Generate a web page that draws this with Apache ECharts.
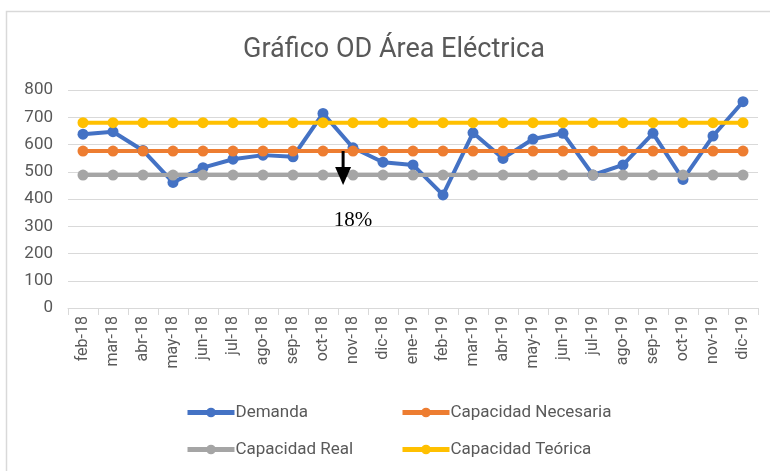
<!DOCTYPE html>
<html lang="es">
<head>
  <meta charset="UTF-8">
  <title>Gráfico OD Área Eléctrica</title>
  <script src="https://cdn.jsdelivr.net/npm/echarts@6/dist/echarts.min.js"></script>
  <style>
    html,body{padding:0;margin:0;background:#fff;}
    #main{width:770px;height:471px;}
  </style>
</head>
<body>
  <div id="main"></div>
  <script>
    // meses
    const meses = ['feb-18','mar-18','abr-18','may-18','jun-18','jul-18','ago-18','sep-18','oct-18','nov-18','dic-18',
                   'ene-19','feb-19','mar-19','abr-19','may-19','jun-19','jul-19','ago-19','sep-19','oct-19','nov-19','dic-19']
    const demanda = [638,647,578,461,515,546,561,555,714,588,535,525,415,643,549,620,641,488,525,641,472,631,757]
    const capNecesaria = meses.map(() => 576)
    const capReal = meses.map(() => 488)
    const capTeorica = meses.map(() => 680)
    // anotación: flecha entre oct-18 y nov-18
    const flecha = {pos: 8.67, desde: 576, hasta: 451, texto: '18%', textoValor: 358, textoPos: 9}

    const gris = '#595959'
    function serie(nombre, datos, color){
      return {
        name: nombre, type: 'line', data: datos, color: color,
        symbol: 'circle', symbolSize: 11,
        lineStyle: {width: 4, color: color},
        itemStyle: {color: color},
        emphasis: {disabled: true}, animation: false
      }
    }
    function leyenda(nombre, left, top){
      return {left: left, top: top, itemWidth: 47, itemHeight: 12, itemGap: 0,
              lineStyle: {width: 5},
              textStyle: {color: gris, fontSize: 17, fontFamily: 'Roboto', padding: [0,0,0,-4]},
              data: [nombre]}
    }

    let option = {
      animation: false,
      title: {
        text: 'Gráfico OD Área Eléctrica', left: 238, top: 32,
        textStyle: {color: gris, fontSize: 27, fontWeight: 'normal', fontFamily: 'Roboto'}
      },
      legend: [
        leyenda('Demanda', 180, 399),
        leyenda('Capacidad Necesaria', 395, 399),
        leyenda('Capacidad Real', 180, 436),
        leyenda('Capacidad Teórica', 395, 436)
      ],
      grid: {left: 68, right: 12, top: 90, bottom: 163, containLabel: false},
      xAxis: {
        type: 'category', data: meses, boundaryGap: true,
        axisLine: {lineStyle: {color: '#d9d9d9', width: 1}},
        axisTick: {show: true, length: 7, lineStyle: {color: '#d9d9d9'}},
        axisLabel: {rotate: 90, color: gris, fontSize: 16, fontFamily: 'Roboto', margin: 8, interval: 0}
      },
      yAxis: {
        type: 'value', min: 0, max: 800, interval: 100,
        axisLine: {show: false}, axisTick: {show: false},
        axisLabel: {color: gris, fontSize: 17, fontFamily: 'Roboto', margin: 15},
        splitLine: {lineStyle: {color: '#d9d9d9', width: 1}}
      },
      series: [
        serie('Demanda', demanda, '#4472C4'),
        serie('Capacidad Necesaria', capNecesaria, '#ED7D31'),
        serie('Capacidad Real', capReal, '#A5A5A5'),
        serie('Capacidad Teórica', capTeorica, '#FFC000')
      ]
    };
    let myChart = echarts.init(document.getElementById('main'));
    myChart.setOption(option);

    // posiciones de la anotación a partir de los ejes
    const i0 = Math.floor(flecha.pos)
    const xa = myChart.convertToPixel({xAxisIndex: 0}, meses[i0])
    const xb = myChart.convertToPixel({xAxisIndex: 0}, meses[i0 + 1])
    const ax = xa + (xb - xa) * (flecha.pos - i0)
    const y1 = myChart.convertToPixel({yAxisIndex: 0}, flecha.desde)
    const y2 = myChart.convertToPixel({yAxisIndex: 0}, flecha.hasta)
    const cabeza = 18
    const tx = myChart.convertToPixel({xAxisIndex: 0}, meses[flecha.textoPos])
    const ty = myChart.convertToPixel({yAxisIndex: 0}, flecha.textoValor)

    myChart.setOption({
      graphic: [
        {type: 'rect', silent: true, z: 0,
         shape: {x: 6.5, y: 11.5, width: 800, height: 500},
         style: {fill: 'none', stroke: '#d9d9d9', lineWidth: 1.5}},
        {type: 'rect', silent: true, z: 100,
         shape: {x: ax - 1.5, y: y1, width: 3, height: (y2 - y1) - cabeza + 1},
         style: {fill: '#000'}},
        {type: 'polygon', silent: true, z: 100,
         shape: {points: [[ax - 8, y2 - cabeza], [ax + 8, y2 - cabeza], [ax, y2]]},
         style: {fill: '#000'}},
        {type: 'text', silent: true, z: 100,
         style: {x: tx, y: ty, text: flecha.texto, fill: '#000', font: '21px "Liberation Serif"',
                 textAlign: 'center', textVerticalAlign: 'top'}}
      ]
    });
  </script>
</body>
</html>
